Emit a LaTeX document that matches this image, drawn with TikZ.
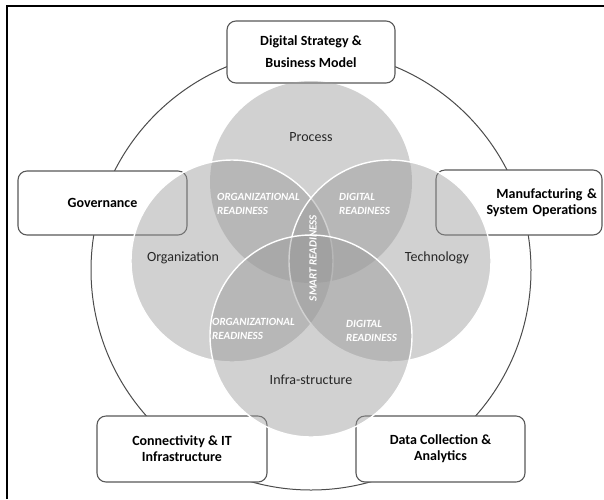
\documentclass[tikz,border=0pt]{standalone}
\usepackage{fontspec}
\setmainfont{Carlito}
\begin{document}
\begin{tikzpicture}[x=1pt,y=-1pt,
  ring/.style={draw=black!70, line width=1pt},
  boxnode/.style={draw=black!65, line width=1.1pt, rounded corners=9pt, fill=white,
    font=\bfseries\fontsize{14}{16}\selectfont, align=center, inner sep=0pt},
  venn/.style={circle, minimum size=202pt, inner sep=0pt, fill=black!40, fill opacity=0.45,
    draw=white, draw opacity=1, line width=1.4pt},
  lbl/.style={font=\fontsize{14}{16}\selectfont, text=black!85},
  ready/.style={font=\bfseries\itshape\fontsize{11}{14}\selectfont, text=white, align=left, inner sep=0pt}]
\useasboundingbox (0,0) rectangle (604,499);
\fill[white] (0,0) rectangle (604,499);
% frame
\draw[line width=2pt, black] (7,499) -- (7,5.5) -- (604,5.5);
% outer ring
\node[ring, circle, minimum size=440pt, inner sep=0pt] (ring) at (311,270) {};
% boxes
\node[boxnode, minimum width=168pt, minimum height=62pt, font=\bfseries\fontsize{14}{22}\selectfont] (strat) at (311,52) {Digital Strategy \&\\Business Model};
\node[boxnode, minimum width=169pt, minimum height=64pt] (gov) at (102.5,203) {Governance};
\node[boxnode, minimum height=65pt, text width=156pt, inner xsep=5pt, align=right] (mfg) at (519,202.5) {Manufacturing \&\\System Operations};
\node[boxnode, minimum width=170pt, minimum height=66pt] (conn) at (182,449) {Connectivity \& IT\\Infrastructure};
\node[boxnode, minimum width=169pt, minimum height=66pt] (data) at (440.5,449) {Data Collection \&\\Analytics};
% venn circles
\node[venn, draw=none] (proc) at (311,182) {};
\node[venn] (org) at (232,261) {};
\node[venn] (tech) at (390,261) {};
\node[venn] (infra) at (311,336) {};
% circle labels
\node[lbl] (lproc) at (311,137) {Process};
\node[lbl] (lorg) at (183,258) {Organization};
\node[lbl] (ltech) at (437,258) {Technology};
\node[lbl] (linfra) at (311,380) {Infra-structure};
% readiness labels
\node[ready, anchor=west] (r1) at (217,204) {ORGANIZATIONAL\\READINESS};
\node[ready, anchor=west] (r2) at (339,204) {DIGITAL\\READINESS};
\node[ready, anchor=west] (r3) at (212,329) {ORGANIZATIONAL\\READINESS};
\node[ready, anchor=west] (r4) at (346,331) {DIGITAL\\READINESS};
\node[ready, rotate=90] (r5) at (313,258) {SMART READINESS};
\end{tikzpicture}
\end{document}
